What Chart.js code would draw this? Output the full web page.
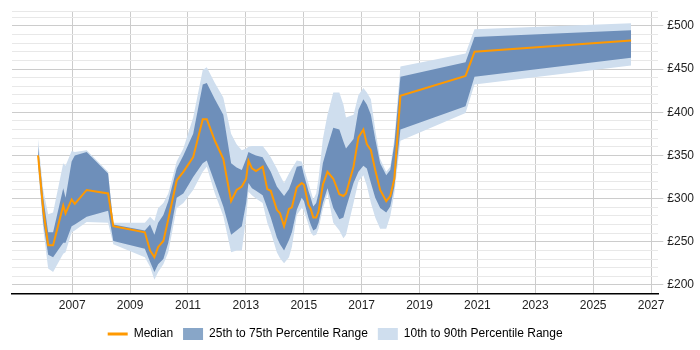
<!DOCTYPE html>
<html>
<head>
<meta charset="utf-8">
<script src="https://cdn.jsdelivr.net/npm/chart.js@4"></script>
<style>
  html, body { margin: 0; padding: 0; background: #fff; }
  #wrap { width: 700px; height: 350px; }
</style>
</head>
<body>
<div id="wrap"><canvas id="myChart"></canvas></div>
<script>
const years = [2005.82, 2006.0, 2006.17, 2006.34, 2006.69, 2006.77, 2006.98, 2007.09, 2007.5, 2008.24,
    2008.42, 2009.51, 2009.69, 2009.84, 2009.97, 2010.15, 2010.32, 2010.61, 2010.84, 2011.18,
    2011.51, 2011.65, 2011.93, 2012.22, 2012.49, 2012.68, 2012.86, 2013.01, 2013.09, 2013.21,
    2013.35, 2013.58, 2013.74, 2013.86, 2014.07, 2014.18, 2014.32, 2014.49, 2014.59, 2014.76,
    2014.93, 2015.01, 2015.16, 2015.24, 2015.33, 2015.43, 2015.51, 2015.66, 2015.82, 2016.02,
    2016.23, 2016.37, 2016.46, 2016.72, 2016.89, 2017.06, 2017.18, 2017.32, 2017.47, 2017.64,
    2017.85, 2017.99, 2018.13, 2018.34, 2020.59, 2020.9, 2026.31];

const median = [350, 287, 246, 246, 292, 283, 299, 294, 310, 306,
    268, 261, 240, 232, 244, 251, 276, 321, 331, 348,
    392, 392, 367, 346, 297, 310, 314, 323, 344, 335,
    332, 337, 311, 309, 287, 283, 268, 288, 290, 313,
    318, 316, 293, 288, 278, 278, 285, 316, 331, 323,
    305, 303, 306, 337, 371, 380, 363, 356, 333, 310,
    297, 303, 323, 419, 442, 470, 483];

const p75 = [360, 301, 261, 261, 312, 301, 343, 350, 354, 329,
    270, 263, 270, 258, 272, 281, 297, 335, 350, 375,
    432, 434, 415, 397, 341, 336, 333, 346, 354, 352,
    350, 348, 338, 331, 314, 309, 303, 311, 320, 337,
    338, 327, 309, 301, 291, 295, 306, 341, 360, 382,
    380, 366, 358, 369, 403, 415, 409, 397, 369, 341,
    327, 333, 363, 441, 458, 487, 495];

const p25 = [343, 272, 235, 232, 249, 249, 268, 270, 279, 286,
    251, 242, 227, 215, 224, 230, 249, 301, 306, 325,
    341, 344, 318, 291, 258, 263, 268, 295, 318, 312,
    309, 304, 289, 278, 255, 247, 240, 252, 261, 287,
    301, 297, 278, 270, 263, 265, 272, 295, 312, 289,
    276, 278, 289, 318, 331, 338, 335, 318, 301, 289,
    284, 291, 314, 380, 407, 441, 463];

const p90 = [369, 310, 282, 284, 341, 338, 355, 354, 356, 331,
    272, 272, 279, 274, 289, 295, 306, 343, 358, 394,
    449, 452, 434, 417, 375, 363, 356, 358, 360, 361,
    361, 361, 354, 348, 335, 327, 318, 329, 335, 344,
    343, 335, 318, 309, 299, 306, 323, 369, 397, 423,
    423, 409, 394, 397, 420, 428, 423, 415, 380, 346,
    331, 337, 369, 453, 468, 496, 503];

const p10 = [335, 265, 219, 215, 236, 238, 261, 263, 273, 272,
    247, 232, 221, 206, 215, 224, 238, 289, 295, 310,
    331, 337, 306, 280, 238, 240, 240, 278, 308, 304,
    300, 295, 272, 261, 238, 231, 225, 232, 244, 281,
    289, 286, 270, 261, 257, 258, 265, 288, 306, 272,
    263, 254, 258, 295, 320, 327, 315, 295, 278, 265,
    265, 280, 306, 367, 399, 432, 454];

const xTicks = [2007, 2009, 2011, 2013, 2015, 2017, 2019, 2021, 2023, 2025, 2027];
const yLabels = [200, 250, 300, 350, 400, 450, 500];
const seriesNames = ['Median', '25th to 75th Percentile Range', '10th to 90th Percentile Range'];

const pts = vals => vals.map((v, i) => ({ x: years[i], y: v }));

const ORANGE = '#ff9900';
const DARK = '#6e8fba';
const DARK_LEGEND = '#88a6c8';
const LIGHT = '#cfdeee';

const data = {
    datasets: [
        {
            label: seriesNames[0],
            data: pts(median),
            borderColor: ORANGE,
            borderWidth: 2,
            pointRadius: 0,
            fill: false,
            tension: 0
        },
        {
            label: seriesNames[1],
            data: pts(p75),
            borderWidth: 0,
            backgroundColor: DARK,
            pointRadius: 0,
            fill: '+1'
        },
        {
            label: 'p25',
            data: pts(p25),
            borderWidth: 0,
            pointRadius: 0,
            fill: false
        },
        {
            label: seriesNames[2],
            data: pts(p90),
            borderWidth: 0,
            backgroundColor: LIGHT,
            pointRadius: 0,
            fill: '+1'
        },
        {
            label: 'p10',
            data: pts(p10),
            borderWidth: 0,
            pointRadius: 0,
            fill: false
        }
    ]
};

Chart.defaults.font.family = '"Liberation Sans", Arial, sans-serif';
Chart.defaults.font.size = 12;
Chart.defaults.color = '#222';

const config = {
    type: 'line',
    data: data,
    options: {
        responsive: true,
        maintainAspectRatio: false,
        animation: false,
        layout: { padding: { left: 12, right: 2, top: 5, bottom: 0 } },
        plugins: {
            tooltip: { enabled: false },
            legend: {
                position: 'bottom',
                fullSize: false,
                labels: {
                    usePointStyle: true,
                    pointStyleWidth: 20,
                    boxHeight: 12,
                    padding: 10,
                    color: '#333',
                    generateLabels: () => [
                        { text: seriesNames[0], pointStyle: 'line', strokeStyle: ORANGE, fillStyle: ORANGE, lineWidth: 3 },
                        { text: seriesNames[1], pointStyle: 'rect', strokeStyle: DARK_LEGEND, fillStyle: DARK_LEGEND, lineWidth: 0 },
                        { text: seriesNames[2], pointStyle: 'rect', strokeStyle: LIGHT, fillStyle: LIGHT, lineWidth: 0 }
                    ]
                }
            }
        },
        scales: {
            x: {
                type: 'linear',
                min: 2004.92,
                max: 2027.25,
                afterBuildTicks: scale => {
                    scale.ticks = xTicks.map(v => ({ value: v }));
                },
                ticks: {
                    autoSkip: false,
                    maxRotation: 0,
                    padding: 5,
                    callback: v => String(v)
                },
                grid: {
                    color: '#cccccc',
                    drawTicks: false
                },
                border: { display: true, color: '#000', width: 1.5 }
            },
            y: {
                position: 'right',
                min: 190,
                max: 517,
                afterBuildTicks: scale => {
                    const t = [];
                    for (let v = 190; v <= 510; v += 10) t.push({ value: v });
                    t.push({ value: scale.max });
                    scale.ticks = t;
                },
                ticks: {
                    autoSkip: false,
                    padding: 4,
                    callback: v => yLabels.includes(v) ? '£' + v : ''
                },
                grid: {
                    color: ctx => (ctx.tick && yLabels.includes(ctx.tick.value)) ? '#cccccc' : '#e8e8e8',
                    tickColor: ctx => (ctx.tick && yLabels.includes(ctx.tick.value)) ? '#cccccc' : 'rgba(0,0,0,0)',
                    tickLength: 5
                },
                border: { display: false }
            }
        }
    }
};

const ctx = document.getElementById('myChart').getContext('2d');
const myChart = new Chart(ctx, config);
</script>
</body>
</html>
